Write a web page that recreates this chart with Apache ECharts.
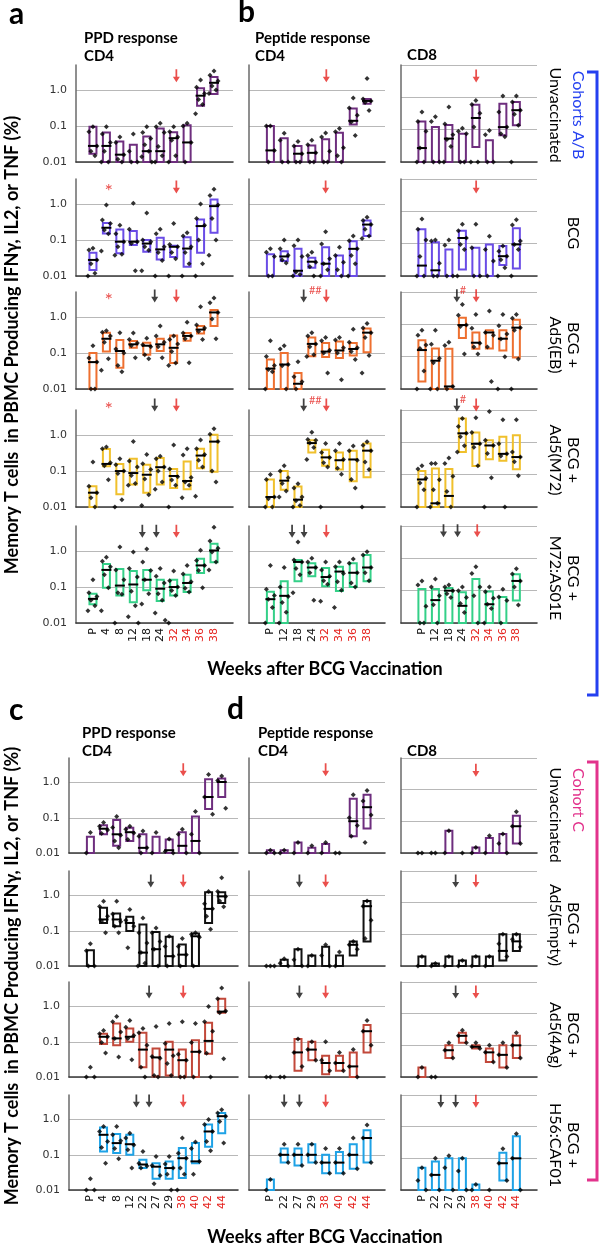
<!DOCTYPE html>
<html><head><meta charset="utf-8">
<script src="https://cdn.jsdelivr.net/npm/echarts@6/dist/echarts.min.js"></script>
<style>html,body{margin:0;padding:0;background:#fff}#c{width:605px;height:1248px}</style>
</head><body><div id="c"></div>
<script>
// ---------- categories / tick labels ----------
const catsA = ['P','4','8','12','18','24','32','34','36','38'];
const catsB = ['P','12','18','24','32','34','36','38'];
const catsC = ['P','4','8','12','22','27','29','38','40','42','44'];
const catsD = ['P','22','27','29','38','40','42','44'];
const redFromA = 6, redFromB = 4, redFromC = 7, redFromD = 4;
const yTickLabels = ['0.01','0.1','1.0'];

// ---------- data: box = [low, high, median] per week, pts = individual values ----------
// a / b : Cohorts A/B
const a_unvac_box = [[0.017,0.096,0.028],[0.01,0.066,0.028],[0.01,0.037,0.016],[0.01,0.03,null],[0.01,0.051,0.02],[0.01,0.086,0.02],[0.01,0.067,0.046],[0.01,0.106,0.035],[0.37,1.13,0.7],[0.78,2.3,1.6]];
const a_unvac_pts = [[0.096,0.07,0.028,0.02,0.015],[0.095,0.06,0.035,0.02,0.01,0.01],[0.05,0.035,0.016,0.012,0.01],[0.06,0.02,0.01,0.01],[0.095,0.066,0.045,0.03,0.02,0.014,0.01],[0.12,0.095,0.066,0.027,0.015,0.01],[0.095,0.07,0.05,0.04,0.015,0.01],[0.12,0.1,0.035,0.01],[1.9,1.2,0.8,0.55,0.4,0.22],[3.4,2.6,1.8,1.3,1.0,0.8]];
const b4_unvac_box = [[0.01,0.1,0.021],[0.01,0.046,null],[0.01,0.028,0.017],[0.01,0.029,0.018],[0.01,0.043,null],[0.01,0.065,null],[0.11,0.31,0.14],[0.42,0.57,0.5]];
const b4_unvac_pts = [[0.1,0.1,0.021,0.01],[0.063,0.04,0.01,0.01],[0.037,0.028,0.017,0.01,0.01],[0.04,0.03,0.018,0.01,0.01],[0.064,0.05,0.02,0.01,0.01],[0.085,0.07,0.025,0.015,0.01],[0.6,0.32,0.2,0.13,0.055],[2.1,0.57,0.5,0.45,0.27]];
const b8_unvac_box = [[0.01,0.18,0.027],[0.01,0.12,null],[0.01,0.14,0.053],[0.01,0.075,null],[0.029,0.59,0.23],[0.01,0.047,null],[0.067,0.63,0.12],[0.136,0.72,0.4]];
const b8_unvac_pts = [[0.35,0.18,0.09,0.027,0.01,0.01],[0.25,0.18,0.01,0.01],[0.5,0.15,0.07,0.05,0.03,0.01],[0.11,0.09,0.075,0.01,0.01],[0.8,0.6,0.32,0.12,0.01,0.01],[0.095,0.07,0.01,0.01],[1.1,0.35,0.12,0.075,0.06],[1.1,0.72,0.4,0.3,0.136,0.01]];

const a_bcg_box = [[0.0147,0.044,0.028],[0.153,0.3,0.22],[0.043,0.198,0.09],[0.073,0.178,0.09],[0.047,0.1,0.08],[0.029,0.116,0.055],[0.034,0.07,0.065],[0.018,0.12,0.058],[0.044,0.375,0.245],[0.16,1.35,0.88]];
const a_bcg_pts = [[0.059,0.053,0.028,0.022,0.012,0.01],[0.94,0.36,0.29,0.19,0.15,0.05],[0.26,0.15,0.09,0.065,0.04,0.038],[1.05,0.2,0.09,0.08,0.014],[0.57,0.1,0.09,0.065,0.052,0.014],[0.2,0.15,0.065,0.045,0.027,0.01],[0.29,0.075,0.065,0.045,0.03,0.01],[0.16,0.13,0.065,0.045,0.022,0.01],[1.0,0.4,0.26,0.1,0.022,0.01],[2.6,1.75,0.95,0.4,0.1,0.038]];
const b4_bcg_box = [[0.01,0.04,null],[0.026,0.049,0.035],[0.01,0.057,0.014],[0.017,0.032,0.025],[0.01,0.063,0.022],[0.01,0.037,null],[0.01,0.092,0.057],[0.13,0.35,0.27]];
const b4_bcg_pts = [[0.057,0.046,0.035,0.01,0.01],[0.1,0.057,0.038,0.028,0.023],[0.1,0.07,0.035,0.013,0.011,0.01],[0.046,0.037,0.024,0.018,0.01],[0.17,0.078,0.03,0.022,0.015,0.01],[0.063,0.037,0.024,0.015,0.01],[0.13,0.095,0.057,0.037,0.022,0.01],[0.43,0.35,0.27,0.2,0.13,0.11]];
const b8_bcg_box = [[0.01,0.28,0.021],[0.01,0.11,0.015],[0.01,0.066,null],[0.016,0.25,0.15],[0.01,0.075,null],[0.01,0.095,null],[0.022,0.084,0.041],[0.017,0.3,0.095]];
const b8_bcg_pts = [[0.58,0.28,0.13,0.04,0.01,0.01],[0.13,0.12,0.025,0.01,0.01],[0.13,0.09,0.01,0.01],[0.4,0.25,0.15,0.094,0.066,0.01],[0.4,0.075,0.01,0.01],[0.17,0.066,0.029,0.01],[0.084,0.058,0.041,0.032,0.018,0.01],[0.55,0.38,0.12,0.095,0.066,0.01]];

const a_eb_box = [[0.01,0.1,0.056],[0.11,0.37,0.25],[0.039,0.23,0.114],[0.14,0.216,0.175],[0.09,0.195,0.16],[0.114,0.25,0.175],[0.053,0.31,0.14],[0.22,0.36,0.3],[0.35,0.57,0.45],[0.57,1.57,1.35]];
const a_eb_pts = [[0.16,0.073,0.056,0.01,0.01],[0.42,0.38,0.3,0.2,0.07,0.033],[0.37,0.13,0.1,0.045,0.03],[0.36,0.24,0.19,0.16,0.074],[0.26,0.17,0.15,0.09,0.07],[0.57,0.3,0.2,0.15,0.074],[0.3,0.24,0.18,0.11,0.053,0.045],[0.72,0.36,0.3,0.25,0.054],[1.95,0.6,0.5,0.4,0.24],[3.4,2.5,1.35,0.88,0.25]];
const b4_eb_box = [[0.01,0.066,0.037],[0.01,0.1,0.048],[0.01,0.028,0.014],[0.081,0.27,0.18],[0.078,0.19,0.11],[0.073,0.21,0.118],[0.086,0.19,0.13],[0.106,0.48,0.37]];
const b4_eb_pts = [[0.22,0.08,0.045,0.035,0.03,0.01],[0.16,0.13,0.048,0.044,0.01],[0.057,0.022,0.016,0.01],[0.37,0.3,0.18,0.15,0.09,0.08],[0.27,0.22,0.12,0.1,0.028],[0.27,0.23,0.14,0.1,0.018],[0.46,0.2,0.14,0.11,0.066],[0.66,0.5,0.37,0.27,0.086,0.028]];
const b8_eb_box = [[0.017,0.32,0.16],[0.01,0.18,0.075],[0.01,0.175,0.012],[0.38,1.6,0.95],[0.175,0.56,0.27],[0.18,0.66,0.56],[0.155,0.66,0.36],[0.095,1.38,0.79]];
const b8_eb_pts = [[0.66,0.46,0.23,0.18,0.036,0.01],[0.66,0.24,0.09,0.065,0.01,0.01],[0.28,0.22,0.012,0.01],[4.1,1.9,0.95,0.85,0.12],[2.0,0.75,0.26,0.2,0.12],[2.6,0.56,0.46,0.2,0.017],[2.0,0.9,0.5,0.35,0.1,0.01],[2.0,1.55,0.79,0.66,0.085,0.01]];

const a_m72_box = [[0.01,0.038,0.025],[0.136,0.41,0.158],[0.0225,0.158,0.1],[0.042,0.22,0.088],[0.025,0.15,0.079],[0.042,0.23,0.128],[0.034,0.114,0.073],[0.031,0.185,0.053],[0.119,0.42,0.27],[0.095,1.02,0.66]];
const a_m72_pts = [[0.18,0.038,0.025,0.018,0.01],[0.47,0.42,0.17,0.14,0.057],[0.22,0.15,0.1,0.085,0.016,0.01],[0.66,0.19,0.13,0.075,0.045,0.04],[0.29,0.16,0.11,0.06,0.022,0.011],[0.26,0.22,0.13,0.1,0.05,0.031],[0.53,0.114,0.07,0.056,0.04,0.01],[0.42,0.28,0.066,0.05,0.04,0.018],[0.73,0.42,0.29,0.2,0.13,0.02],[1.5,1.05,0.66,0.1,0.05]];
const b4_m72_box = [[0.01,0.058,0.019],[0.03,0.1,0.054],[0.01,0.037,0.016],[0.33,0.72,0.6],[0.14,0.39,0.24],[0.11,0.33,0.2],[0.052,0.37,0.21],[0.067,0.58,0.37]];
const b4_m72_pts = [[0.08,0.058,0.019,0.017,0.01,0.01],[0.14,0.1,0.065,0.045,0.028,0.019],[0.044,0.034,0.019,0.015,0.011,0.01],[1.2,0.76,0.72,0.6,0.45,0.21],[0.58,0.33,0.24,0.17,0.13,0.01],[0.58,0.37,0.21,0.12,0.082],[0.5,0.37,0.2,0.058,0.034],[0.65,0.52,0.37,0.18,0.11,0.01]];
const b8_m72_box = [[0.01,0.13,0.071],[0.01,0.155,0.013],[0.01,0.15,0.022],[0.5,5.5,1.9],[0.187,2.0,0.9],[0.3,1.15,0.8],[0.27,1.5,0.44],[0.147,1.67,0.35]];
const b8_m72_pts = [[0.19,0.15,0.078,0.055,0.034,0.01],[0.22,0.22,0.07,0.034,0.013,0.01],[0.33,0.22,0.09,0.03,0.01],[5.5,3.1,1.9,1.5,0.78,0.5],[5.8,2.0,0.9,0.7,0.19],[9,1.15,0.8,0.45,0.08,0.01],[5,0.9,0.44,0.38,0.01],[5,0.5,0.35,0.25,0.092]];

const a_as01_box = [[0.033,0.065,0.047],[0.096,0.44,0.3],[0.058,0.32,0.11],[0.038,0.28,0.118],[0.081,0.3,0.16],[0.041,0.16,0.09],[0.058,0.16,0.1],[0.073,0.22,0.13],[0.245,0.61,0.4],[0.49,1.6,1.04]];
const a_as01_pts = [[0.16,0.07,0.055,0.043,0.03,0.022],[0.68,0.52,0.37,0.22,0.096,0.022],[1.3,0.3,0.16,0.07,0.063,0.01],[0.94,0.33,0.19,0.077,0.03,0.015,0.01],[1.15,0.5,0.29,0.16,0.065,0.034],[0.33,0.2,0.13,0.065,0.043,0.019,0.012],[0.28,0.15,0.1,0.08,0.058,0.01],[0.4,0.23,0.14,0.092,0.073],[1.05,0.55,0.4,0.29,0.096],[4.6,1.9,1.2,0.95,0.5,0.3]];
const b4_as01_box = [[0.01,0.074,0.046],[0.01,0.146,0.057],[0.146,0.57,0.5],[0.2,0.46,0.35],[0.106,0.34,0.19],[0.078,0.37,0.27],[0.1,0.46,0.25],[0.146,0.78,0.35]];
const b4_as01_pts = [[0.4,0.087,0.058,0.046,0.027,0.01],[0.35,0.1,0.055,0.037,0.02,0.01],[1.8,0.57,0.5,0.33,0.22,0.07],[0.63,0.5,0.35,0.25,0.043],[0.5,0.3,0.2,0.15,0.12,0.04],[0.5,0.37,0.24,0.14,0.082,0.027],[0.6,0.46,0.25,0.13,0.1],[0.96,0.78,0.35,0.25,0.15]];
const b8_as01_box = [[0.01,0.113,null],[0.01,0.113,0.051],[0.01,0.12,0.1],[0.01,0.089,0.034],[0.01,0.23,null],[0.01,0.095,0.038],[0.01,0.064,null],[0.05,0.32,0.2]];
const b8_as01_pts = [[0.2,0.15,0.033,0.01,0.01],[0.23,0.13,0.07,0.037,0.01],[0.15,0.13,0.1,0.08,0.062],[0.13,0.1,0.062,0.04,0.021],[0.55,0.34,0.13,0.07,0.01],[0.13,0.092,0.058,0.038,0.028,0.01],[0.11,0.064,0.05,0.01],[0.48,0.33,0.2,0.13,0.036]];

// c / d : Cohort C
const c_unvac_box = [[0.01,0.029,null],[0.034,0.061,0.049],[0.016,0.086,0.034],[0.022,0.052,0.039],[0.01,0.034,0.014],[0.01,0.029,null],[0.01,0.024,0.012],[0.01,0.039,0.016],[0.01,0.109,0.022],[0.178,1.25,0.39],[0.39,1.3,1.04]];
const c_unvac_pts = [[0.038,0.01],[0.073,0.058,0.045,0.036],[0.109,0.053,0.032,0.022,0.014],[0.058,0.047,0.037,0.024],[0.042,0.03,0.014,0.01],[0.038,0.01],[0.025,0.011,0.01],[0.047,0.034,0.01],[0.15,0.034,0.01],[1.7,0.39,0.127],[1.55,1.15,0.186]];
const d4_unvac_box = [[0.01,0.012,null],[0.01,0.012,null],[0.01,0.02,null],[0.01,0.014,null],[0.01,0.018,null],null,[0.03,0.35,0.08],[0.05,0.45,0.2]];
const d4_unvac_pts = [[0.012,0.01,0.01],[0.012,0.01],[0.02,0.01],[0.016,0.01],[0.02,0.01],[0.01,0.01],[0.45,0.1,0.06,0.03],[0.6,0.3,0.12,0.02]];
const d8_unvac_box = [null,null,[0.01,0.05,null],null,[0.01,0.015,null],[0.01,0.03,null],[0.01,0.04,null],[0.02,0.15,0.07]];
const d8_unvac_pts = [[0.01,0.01],[0.01,0.01],[0.05,0.01],[0.01],[0.015,0.01],[0.035,0.01],[0.04,0.02,0.01],[0.2,0.07,0.02]];

const c_empty_box = [[0.01,0.028,null],[0.167,0.45,0.21],[0.135,0.31,0.21],[0.098,0.25,0.167],[0.01,0.15,0.024],[0.01,0.092,0.03],[0.01,0.068,0.019],[0.01,0.041,0.021],[0.01,0.084,0.07],[0.167,1.24,0.42],[0.62,1.24,0.95]];
const c_empty_pts = [[0.043,0.027,0.01,0.01],[0.69,0.49,0.26,0.19,0.088],[0.69,0.3,0.18,0.135,0.088],[0.4,0.2,0.135,0.033],[0.23,0.088,0.045,0.024,0.012,0.01],[0.12,0.088,0.05,0.03,0.01],[0.07,0.036,0.019,0.01],[0.06,0.036,0.021,0.01],[0.088,0.08,0.066,0.01],[1.3,0.59,0.42,0.26,0.11],[3.2,1.3,0.95,0.7,0.48]];
const d4_empty_box = [null,[0.01,0.015,null],[0.01,0.03,null],[0.01,0.02,null],[0.01,0.035,null],[0.01,0.02,null],[0.02,0.05,0.04],[0.05,0.7,0.5]];
const d4_empty_pts = [[0.01,0.01,0.01],[0.016,0.012,0.01],[0.03,0.015,0.01],[0.02,0.01],[0.04,0.02,0.01],[0.025,0.01],[0.05,0.04,0.03],[0.7,0.5,0.2,0.06]];
const d8_empty_box = [[0.01,0.02,null],[0.01,0.012,null],[0.01,0.02,null],[0.01,0.015,null],[0.01,0.02,null],[0.01,0.02,null],[0.015,0.1,0.03],[0.03,0.1,0.06]];
const d8_empty_pts = [[0.02,0.01],[0.012,0.01],[0.02,0.01],[0.015,0.01],[0.02,0.01],[0.02,0.01],[0.1,0.05,0.02],[0.1,0.07,0.04]];

const c_4ag_box = [null,[0.086,0.17,0.139],[0.08,0.33,0.125],[0.1,0.24,0.139],[0.019,0.18,0.06],[0.0104,0.064,0.036],[0.011,0.1,0.06],[0.01,0.06,0.03],[0.01,0.11,0.052],[0.046,0.35,0.106],[0.67,1.68,0.72]];
const c_4ag_pts = [[0.019,0.01,0.01],[0.21,0.17,0.139,0.095,0.048],[0.52,0.37,0.19,0.125,0.037],[0.4,0.26,0.15,0.125,0.031],[0.24,0.18,0.08,0.019,0.01],[0.27,0.038,0.034,0.011,0.01],[0.33,0.09,0.04,0.024,0.011],[0.37,0.044,0.03,0.01,0.01],[0.33,0.095,0.052,0.01],[1.0,0.37,0.2,0.047,0.01],[3.4,1.68,0.75,0.67,0.033]];
const d4_4ag_box = [null,null,[0.015,0.12,0.05],[0.03,0.1,0.06],[0.012,0.04,0.025],[0.015,0.04,0.025],[0.01,0.05,0.02],[0.05,0.3,0.2]];
const d4_4ag_pts = [[0.01,0.01],[0.01,0.01],[0.12,0.05,0.02],[0.1,0.06,0.03],[0.1,0.03,0.015],[0.05,0.025,0.015],[0.06,0.02,0.01],[0.4,0.2,0.08]];
const d8_4ag_box = [[0.01,0.02,null],null,[0.04,0.1,0.07],[0.12,0.25,0.2],[0.08,0.1,0.09],[0.03,0.08,0.06],[0.02,0.1,0.05],[0.04,0.2,0.1]];
const d8_4ag_pts = [[0.02,0.01],[0.01,0.01],[0.12,0.07,0.04],[0.3,0.2,0.12],[0.12,0.09,0.08],[0.1,0.06,0.03],[0.12,0.05,0.02],[0.25,0.1,0.04]];

const c_h56_box = [null,[0.124,0.6,0.37],[0.112,0.39,0.215],[0.1,0.37,0.2],[0.042,0.072,0.053],[0.021,0.058,0.046],[0.021,0.064,0.042],[0.022,0.155,0.08],[0.058,0.215,0.065],[0.17,0.72,0.46],[0.41,1.55,1.25]];
const c_h56_pts = [[0.021,0.01,0.01],[0.64,0.46,0.24,0.16,0.058],[0.64,0.37,0.25,0.15,0.077],[0.41,0.3,0.19,0.14,0.042],[0.125,0.058,0.048,0.042],[0.089,0.05,0.026,0.015],[0.089,0.055,0.042,0.028,0.01],[0.3,0.11,0.08,0.042,0.028,0.01],[0.23,0.15,0.065,0.028],[1.0,0.72,0.46,0.24,0.13],[1.9,1.55,1.25,0.89,0.215]];
const d4_h56_box = [[0.01,0.02,null],[0.06,0.15,0.1],[0.05,0.15,0.1],[0.06,0.2,0.1],[0.03,0.1,0.06],[0.03,0.12,0.06],[0.04,0.2,0.1],[0.06,0.5,0.3]];
const d4_h56_pts = [[0.02,0.01],[0.2,0.1,0.06],[0.2,0.1,0.05],[0.2,0.1,0.06],[0.15,0.06,0.03],[0.15,0.06,0.03],[0.3,0.1,0.04],[0.7,0.3,0.06]];
const d8_h56_box = [[0.01,0.05,null],[0.01,0.08,0.03],[0.01,0.1,null],[0.01,0.1,null],[0.01,0.015,null],null,[0.02,0.15,0.07],[0.01,0.5,0.1]];
const d8_h56_pts = [[0.05,0.02,0.01],[0.1,0.03,0.01],[0.12,0.05,0.01],[0.1,0.04,0.01],[0.015,0.01],[0.01],[0.2,0.07,0.02],[0.6,0.1,0.01]];

// ---------- styling / layout ----------
const COL = {unvac:'#6e2e7e', bcg:'#6a4ce6', eb:'#ee7030', m72:'#f0c02c', as01:'#34d088', empty:'#111111', ag:'#c2483a', h56:'#1ea2e6'};
const RED = '#e5231f';
const JIT = [0,-4,4,-2,2,-5,5,-1,1];
const TOP_Y = [65,179,292,410,526], TOP_H = 97;
const BOT_Y = [758,871,982,1095], BOT_H = 95;
const COLS_TOP = [{left:76,width:157,min:-1.26,max:10.41},{left:249,width:136,min:-1.55,max:8.3},{left:401,width:136,min:-1.55,max:8.53}];
const COLS_BOT = [{left:69,width:169,min:-1.63,max:11.24},{left:249,width:136,min:-1.55,max:8.3},{left:401,width:136,min:-1.55,max:8.53}];
const LVL_TOP = {cd4:[2.5,3.0,3.9,6.9,3.6], cd8:[4.6,5.7,7.6,14.4,7.1]};
const LVL_BOT = {cd4:[2.3,2.6,2.6,3.4], cd8:[4.1,4.8,4.8,6.4]};
const MARK_TOP = [
  [[{a:'r',x:6.2}],[{a:'r',x:4.05}],[{a:'r',x:4.02}]],
  [[{t:'*',x:1.17},{a:'r',x:6.2}],[{a:'r',x:4.0}],[{a:'r',x:4.02}]],
  [[{t:'*',x:1.17},{a:'k',x:4.59},{a:'r',x:6.2}],[{a:'k',x:2.41},{t:'##',x:3.25},{a:'r',x:4.05}],[{a:'k',x:2.59},{t:'#',x:3.05},{a:'r',x:4.02}]],
  [[{t:'*',x:1.17},{a:'k',x:4.59},{a:'r',x:6.2}],[{a:'k',x:2.41},{t:'##',x:3.25},{a:'r',x:4.05}],[{a:'k',x:2.59},{t:'#',x:3.05},{a:'r',x:4.02}]],
  [[{a:'k',x:3.67},{a:'k',x:4.71},{a:'r',x:6.2}],[{a:'k',x:1.57},{a:'k',x:2.44},{a:'r',x:4.05}],[{a:'k',x:1.6},{a:'k',x:2.64},{a:'r',x:4.1}]]
];
const MARK_BOT = [
  [[{a:'r',x:7.07}],[{a:'r',x:4.0}],[{a:'r',x:4.0}]],
  [[{a:'k',x:4.6},{a:'r',x:7.07}],[{a:'k',x:2.1},{a:'r',x:4.0}],[{a:'k',x:2.5},{a:'r',x:4.0}]],
  [[{a:'k',x:4.47},{a:'r',x:7.07}],[{a:'k',x:2.1},{a:'r',x:4.0}],[{a:'k',x:2.5},{a:'r',x:4.0}]],
  [[{a:'k',x:3.5},{a:'k',x:4.47},{a:'r',x:7.07}],[{a:'k',x:1.0},{a:'k',x:2.1},{a:'r',x:4.0}],[{a:'k',x:1.4},{a:'k',x:2.5},{a:'r',x:4.0}]]
];

const TOP_DATA = [
  {c:COL.unvac, p:[[a_unvac_box,a_unvac_pts],[b4_unvac_box,b4_unvac_pts],[b8_unvac_box,b8_unvac_pts]]},
  {c:COL.bcg,   p:[[a_bcg_box,a_bcg_pts],[b4_bcg_box,b4_bcg_pts],[b8_bcg_box,b8_bcg_pts]]},
  {c:COL.eb,    p:[[a_eb_box,a_eb_pts],[b4_eb_box,b4_eb_pts],[b8_eb_box,b8_eb_pts]]},
  {c:COL.m72,   p:[[a_m72_box,a_m72_pts],[b4_m72_box,b4_m72_pts],[b8_m72_box,b8_m72_pts]]},
  {c:COL.as01,  p:[[a_as01_box,a_as01_pts],[b4_as01_box,b4_as01_pts],[b8_as01_box,b8_as01_pts]]}
];
const BOT_DATA = [
  {c:COL.unvac, p:[[c_unvac_box,c_unvac_pts],[d4_unvac_box,d4_unvac_pts],[d8_unvac_box,d8_unvac_pts]]},
  {c:COL.empty, p:[[c_empty_box,c_empty_pts],[d4_empty_box,d4_empty_pts],[d8_empty_box,d8_empty_pts]]},
  {c:COL.ag,    p:[[c_4ag_box,c_4ag_pts],[d4_4ag_box,d4_4ag_pts],[d8_4ag_box,d8_4ag_pts]]},
  {c:COL.h56,   p:[[c_h56_box,c_h56_pts],[d4_h56_box,d4_h56_pts],[d8_h56_box,d8_h56_pts]]}
];

const panels = [];
function build(rowsY, rowH, cols, data, marks, lvl, catsFirst, redFirst, catsOther, redOther) {
  data.forEach((row, ri) => {
    cols.forEach((col, ci) => {
      const cd8 = ci === 2;
      panels.push({
        left: col.left, width: col.width, top: rowsY[ri], height: rowH, xmin: col.min, xmax: col.max,
        ymax: cd8 ? 10 : 5, color: row.c, box: row.p[ci][0], pts: row.p[ci][1],
        cats: ci === 0 ? catsFirst : catsOther, redFrom: ci === 0 ? redFirst : redOther,
        showX: ri === data.length - 1, showY: ci === 0,
        marks: marks[ri][ci], level: cd8 ? lvl.cd8[ri] : lvl.cd4[ri]
      });
    });
  });
}
build(TOP_Y, TOP_H, COLS_TOP, TOP_DATA, MARK_TOP, LVL_TOP, catsA, redFromA, catsB, redFromB);
build(BOT_Y, BOT_H, COLS_BOT, BOT_DATA, MARK_BOT, LVL_BOT, catsC, redFromC, catsD, redFromD);

function yLab(v) {
  const l = Math.log10(v);
  for (let k = 0; k < 3; k++) if (Math.abs(l - (k - 2)) < 1e-6) return yTickLabels[k];
  return '';
}
const ARROW = 'path://M3,0L5,0L5,9L8,9L4,16L0,9L3,9Z';

const option = {animation:false, backgroundColor:'#fff', grid:[], xAxis:[], yAxis:[], series:[], graphic:[]};
panels.forEach((p, gi) => {
  option.grid.push({left:p.left, top:p.top, width:p.width, height:p.height, containLabel:false, outerBoundsMode:'none'});
  option.xAxis.push({
    gridIndex:gi, type:'value', min:p.xmin, max:p.xmax,
    axisLine:{show:true, onZero:false, lineStyle:{color:'#3a3a3a', width:1.6}},
    axisTick:{show:false}, splitLine:{show:false},
    axisLabel: p.showX ? {
      show:true, customValues: p.cats.map((_, i) => i), rotate:90, margin:5, hideOverlap:false,
      formatter: v => { const i = Math.round(v); return (i >= p.redFrom ? '{r|' : '{k|') + p.cats[i] + '}'; },
      rich:{ r:{color:RED, fontSize:11, fontFamily:'DejaVu Sans'}, k:{color:'#111', fontSize:11, fontFamily:'DejaVu Sans'} }
    } : {show:false}
  });
  option.yAxis.push({
    gridIndex:gi, type:'log', logBase:10, min:0.01, max:p.ymax,
    axisLine:{show:true, onZero:false, lineStyle:{color:'#6a6a6a', width:1.5}}, axisTick:{show:false},
    splitLine:{show:true, lineStyle:{width:1, color: p.ymax > 9 ? ['#b8b8b8'] : ['#b8b8b8','#b8b8b8','#b8b8b8','rgba(0,0,0,0)']}},
    axisLabel: p.showY ? {show:true, margin:9, color:'#333', fontSize:11, fontFamily:'DejaVu Sans', formatter:yLab} : {show:false}
  });
  const boxData = [];
  p.box.forEach((b, i) => { if (b) boxData.push([i, b[0], b[1], b[2] == null ? 0 : b[2]]); });
  option.series.push({
    type:'custom', xAxisIndex:gi, yAxisIndex:gi, silent:true, z:2, encode:{x:0, y:[1,2]},
    data: boxData,
    renderItem: (params, api) => {
      const i = api.value(0);
      const lo = api.coord([i, api.value(1)]), hi = api.coord([i, api.value(2)]);
      const w = 7;
      const ch = [{type:'rect', shape:{x:lo[0]-w/2, y:hi[1], width:w, height:Math.max(lo[1]-hi[1], 1)}, style:{fill:'rgba(255,255,255,0)', stroke:p.color, lineWidth:2}}];
      const m = api.value(3);
      if (m > 0) { const mp = api.coord([i, m]); ch.push({type:'line', shape:{x1:mp[0]-5, y1:mp[1], x2:mp[0]+5, y2:mp[1]}, style:{stroke:'#000', lineWidth:2}}); }
      return {type:'group', children:ch};
    }
  });
  const ptData = [];
  p.pts.forEach((arr, i) => arr.forEach((v, k) => ptData.push({value:[i, v], symbolOffset:[JIT[k % JIT.length], 0]})));
  option.series.push({type:'scatter', xAxisIndex:gi, yAxisIndex:gi, silent:true, clip:false, z:4, symbol:'diamond', symbolSize:5, itemStyle:{color:'#000'}, data:ptData});
  const arrows = p.marks.filter(m => m.a).map(m => ({value:[m.x, p.level], itemStyle:{color: m.a === 'r' ? RED : '#111'}}));
  option.series.push({type:'scatter', xAxisIndex:gi, yAxisIndex:gi, silent:true, clip:false, z:5, symbol:ARROW, symbolSize:[7,13], data:arrows});
  const texts = p.marks.filter(m => m.t).map(m => ({value:[m.x, p.level], name:m.t,
    label: m.t === '*' ? {fontSize:20, offset:[0,5]} : {fontSize:11, offset:[0,-5]}}));
  option.series.push({type:'scatter', xAxisIndex:gi, yAxisIndex:gi, silent:true, clip:false, z:5, symbol:'circle', symbolSize:1,
    itemStyle:{color:'rgba(0,0,0,0)'}, label:{show:true, position:'inside', formatter:'{b}', color:RED, fontFamily:'Lato'}, data:texts});
});

// ---------- text & decorations ----------
function T(text, x, y, font, o) {
  o = o || {};
  return {type:'text', x:x, y:y, rotation:o.rot || 0, z:10, silent:true,
    style:{text:text, font:font, fill:o.fill || '#000', align:o.align || 'left', textAlign:o.align || 'left',
      verticalAlign:'middle', textVerticalAlign:'middle', lineHeight:o.lh || undefined}};
}
const ROT_CW = -Math.PI/2, ROT_CCW = Math.PI/2;
const BLUE = '#2440f0', MAG = '#e2338c';
const ytitle = 'Memory T cells  in PBMC Producing IFNγ, IL2, or TNF (%)';
const xtitle = 'Weeks after BCG Vaccination';
const F15 = 'bold 15px Lato', F16 = '16px Lato';
option.graphic = [
  T('a', 9, 14, 'bold 30px Lato'), T('b', 238, 12, 'bold 30px Lato'),
  T('PPD response', 84, 38, F15), T('CD4', 84, 56, F15),
  T('Peptide response', 255, 38, F15), T('CD4', 255, 56, F15), T('CD8', 407, 55, F15),
  T(ytitle, 12, 345, 'bold 18px Lato', {rot:ROT_CCW, align:'center'}),
  T(xtitle, 325, 669, 'bold 18px Lato', {align:'center'}),
  T('Unvaccinated', 555, 115, F16, {rot:ROT_CW, align:'center'}),
  T('BCG', 573, 233, F16, {rot:ROT_CW, align:'center'}),
  T('BCG +\nAd5(EB)', 564, 345, F16, {rot:ROT_CW, align:'center', lh:18}),
  T('BCG +\nAd5(M72)', 564, 460, F16, {rot:ROT_CW, align:'center', lh:18}),
  T('BCG +\nM72:AS01E', 564, 578, F16, {rot:ROT_CW, align:'center', lh:18}),
  T('Cohorts A/B', 578, 115, F16, {rot:ROT_CW, align:'center', fill:BLUE}),
  {type:'polyline', z:10, silent:true, shape:{points:[[587,72],[597,72],[597,695],[587,695]]}, style:{stroke:BLUE, lineWidth:3, fill:null}},

  T('c', 9, 710, 'bold 30px Lato'), T('d', 227, 709, 'bold 30px Lato'),
  T('PPD response', 82, 733, F15), T('CD4', 82, 751, F15),
  T('Peptide response', 258, 733, F15), T('CD4', 258, 751, F15), T('CD8', 407, 751, F15),
  T(ytitle, 12, 976, 'bold 18px Lato', {rot:ROT_CCW, align:'center'}),
  T(xtitle, 325, 1237, 'bold 18px Lato', {align:'center'}),
  T('Unvaccinated', 555, 815, F16, {rot:ROT_CW, align:'center'}),
  T('BCG +\nAd5(Empty)', 564, 925, F16, {rot:ROT_CW, align:'center', lh:18}),
  T('BCG +\nAd5(4Ag)', 564, 1035, F16, {rot:ROT_CW, align:'center', lh:18}),
  T('BCG +\nH56:CAF01', 564, 1145, F16, {rot:ROT_CW, align:'center', lh:18}),
  T('Cohort C', 578, 800, F16, {rot:ROT_CW, align:'center', fill:MAG}),
  {type:'polyline', z:10, silent:true, shape:{points:[[587,762],[597,762],[597,1180],[587,1180]]}, style:{stroke:MAG, lineWidth:3, fill:null}}
];

const chart = echarts.init(document.getElementById('c'), null, {renderer:'canvas'});
chart.setOption(option);
</script></body></html>
